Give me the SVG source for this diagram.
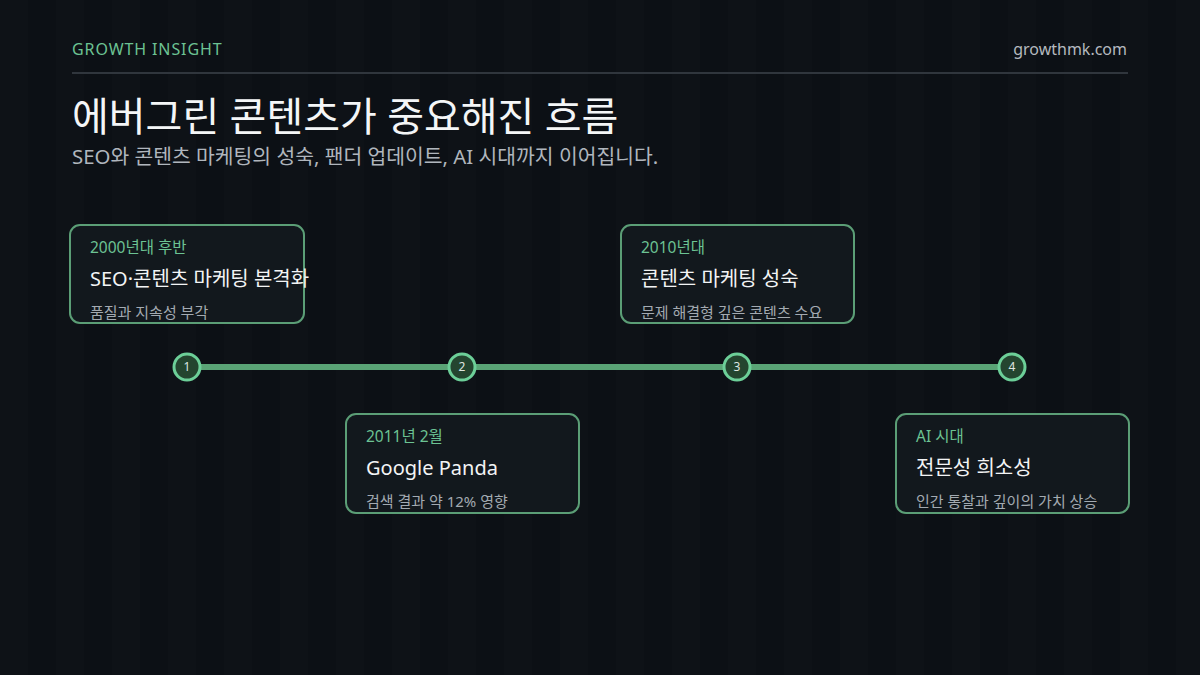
<svg xmlns="http://www.w3.org/2000/svg" width="1200" height="675" viewBox="0 0 1200 675">
  <defs>
    <pattern id="stripes" x="0" y="0" width="56" height="675" patternUnits="userSpaceOnUse">
      <rect x="0" y="0" width="56" height="675" fill="#0c1015"/>
      <rect x="0" y="0" width="28" height="675" fill="#0e1217"/>
    </pattern>
  </defs>
  <style>
    text { font-family: "Noto Sans", "Noto Sans CJK KR", sans-serif; }
    .card { fill: #12181d; stroke: #5b9e76; stroke-width: 2; }
    .date { font-size: 15.5px; fill: #6cc393; }
    .ttl { font-size: 20px; fill: #f2f4f5; }
    .desc { font-size: 15px; fill: #a3aab1; }
    .dot { fill: #24452f; stroke: #6ccf98; stroke-width: 3; }
    .num { font-size: 12px; fill: #dfe6e1; text-anchor: middle; }
  </style>
  <rect width="1200" height="675" fill="url(#stripes)"/>

  <g id="header">
    <text x="72" y="55" font-size="16" letter-spacing="0.9" fill="#6cc393">GROWTH INSIGHT</text>
    <text x="1127" y="55" font-size="16" fill="#b4b9bf" text-anchor="end">growthmk.com</text>
    <line x1="72" y1="73" x2="1128" y2="73" stroke="#30363d" stroke-width="2"/>
    <text x="72" y="131" font-size="40" fill="#f4f6f7">에버그린 콘텐츠가 중요해진 흐름</text>
    <text x="72" y="164" font-size="20.4" fill="#b0b6bd">SEO와 콘텐츠 마케팅의 성숙, 팬더 업데이트, AI 시대까지 이어집니다.</text>
  </g>

  <g id="connectors">
    <line x1="187" y1="367" x2="1012" y2="367" stroke="#5aa476" stroke-width="6"/>
  </g>

  <g id="node1">
    <circle class="dot" cx="187" cy="367" r="13"/>
    <text class="num" x="187" y="371">1</text>
  </g>
  <g id="node2">
    <circle class="dot" cx="462" cy="367" r="13"/>
    <text class="num" x="462" y="371">2</text>
  </g>
  <g id="node3">
    <circle class="dot" cx="737" cy="367" r="13"/>
    <text class="num" x="737" y="371">3</text>
  </g>
  <g id="node4">
    <circle class="dot" cx="1012" cy="367" r="13"/>
    <text class="num" x="1012" y="371">4</text>
  </g>

  <g id="card1">
    <rect class="card" x="70" y="225" width="234" height="98" rx="10"/>
    <text class="date" x="90" y="253">2000년대 후반</text>
    <text class="ttl" x="90" y="286">SEO·콘텐츠 마케팅 본격화</text>
    <text class="desc" x="90" y="318">품질과 지속성 부각</text>
  </g>
  <g id="card2">
    <rect class="card" x="346" y="414" width="233" height="99" rx="10"/>
    <text class="date" x="366" y="442">2011년 2월</text>
    <text class="ttl" x="366" y="475">Google Panda</text>
    <text class="desc" x="366" y="507">검색 결과 약 12% 영향</text>
  </g>
  <g id="card3">
    <rect class="card" x="621" y="225" width="233" height="98" rx="10"/>
    <text class="date" x="641" y="253">2010년대</text>
    <text class="ttl" x="641" y="286">콘텐츠 마케팅 성숙</text>
    <text class="desc" x="641" y="318">문제 해결형 깊은 콘텐츠 수요</text>
  </g>
  <g id="card4">
    <rect class="card" x="896" y="414" width="233" height="99" rx="10"/>
    <text class="date" x="916" y="442">AI 시대</text>
    <text class="ttl" x="916" y="475">전문성 희소성</text>
    <text class="desc" x="916" y="507">인간 통찰과 깊이의 가치 상승</text>
  </g>
</svg>
